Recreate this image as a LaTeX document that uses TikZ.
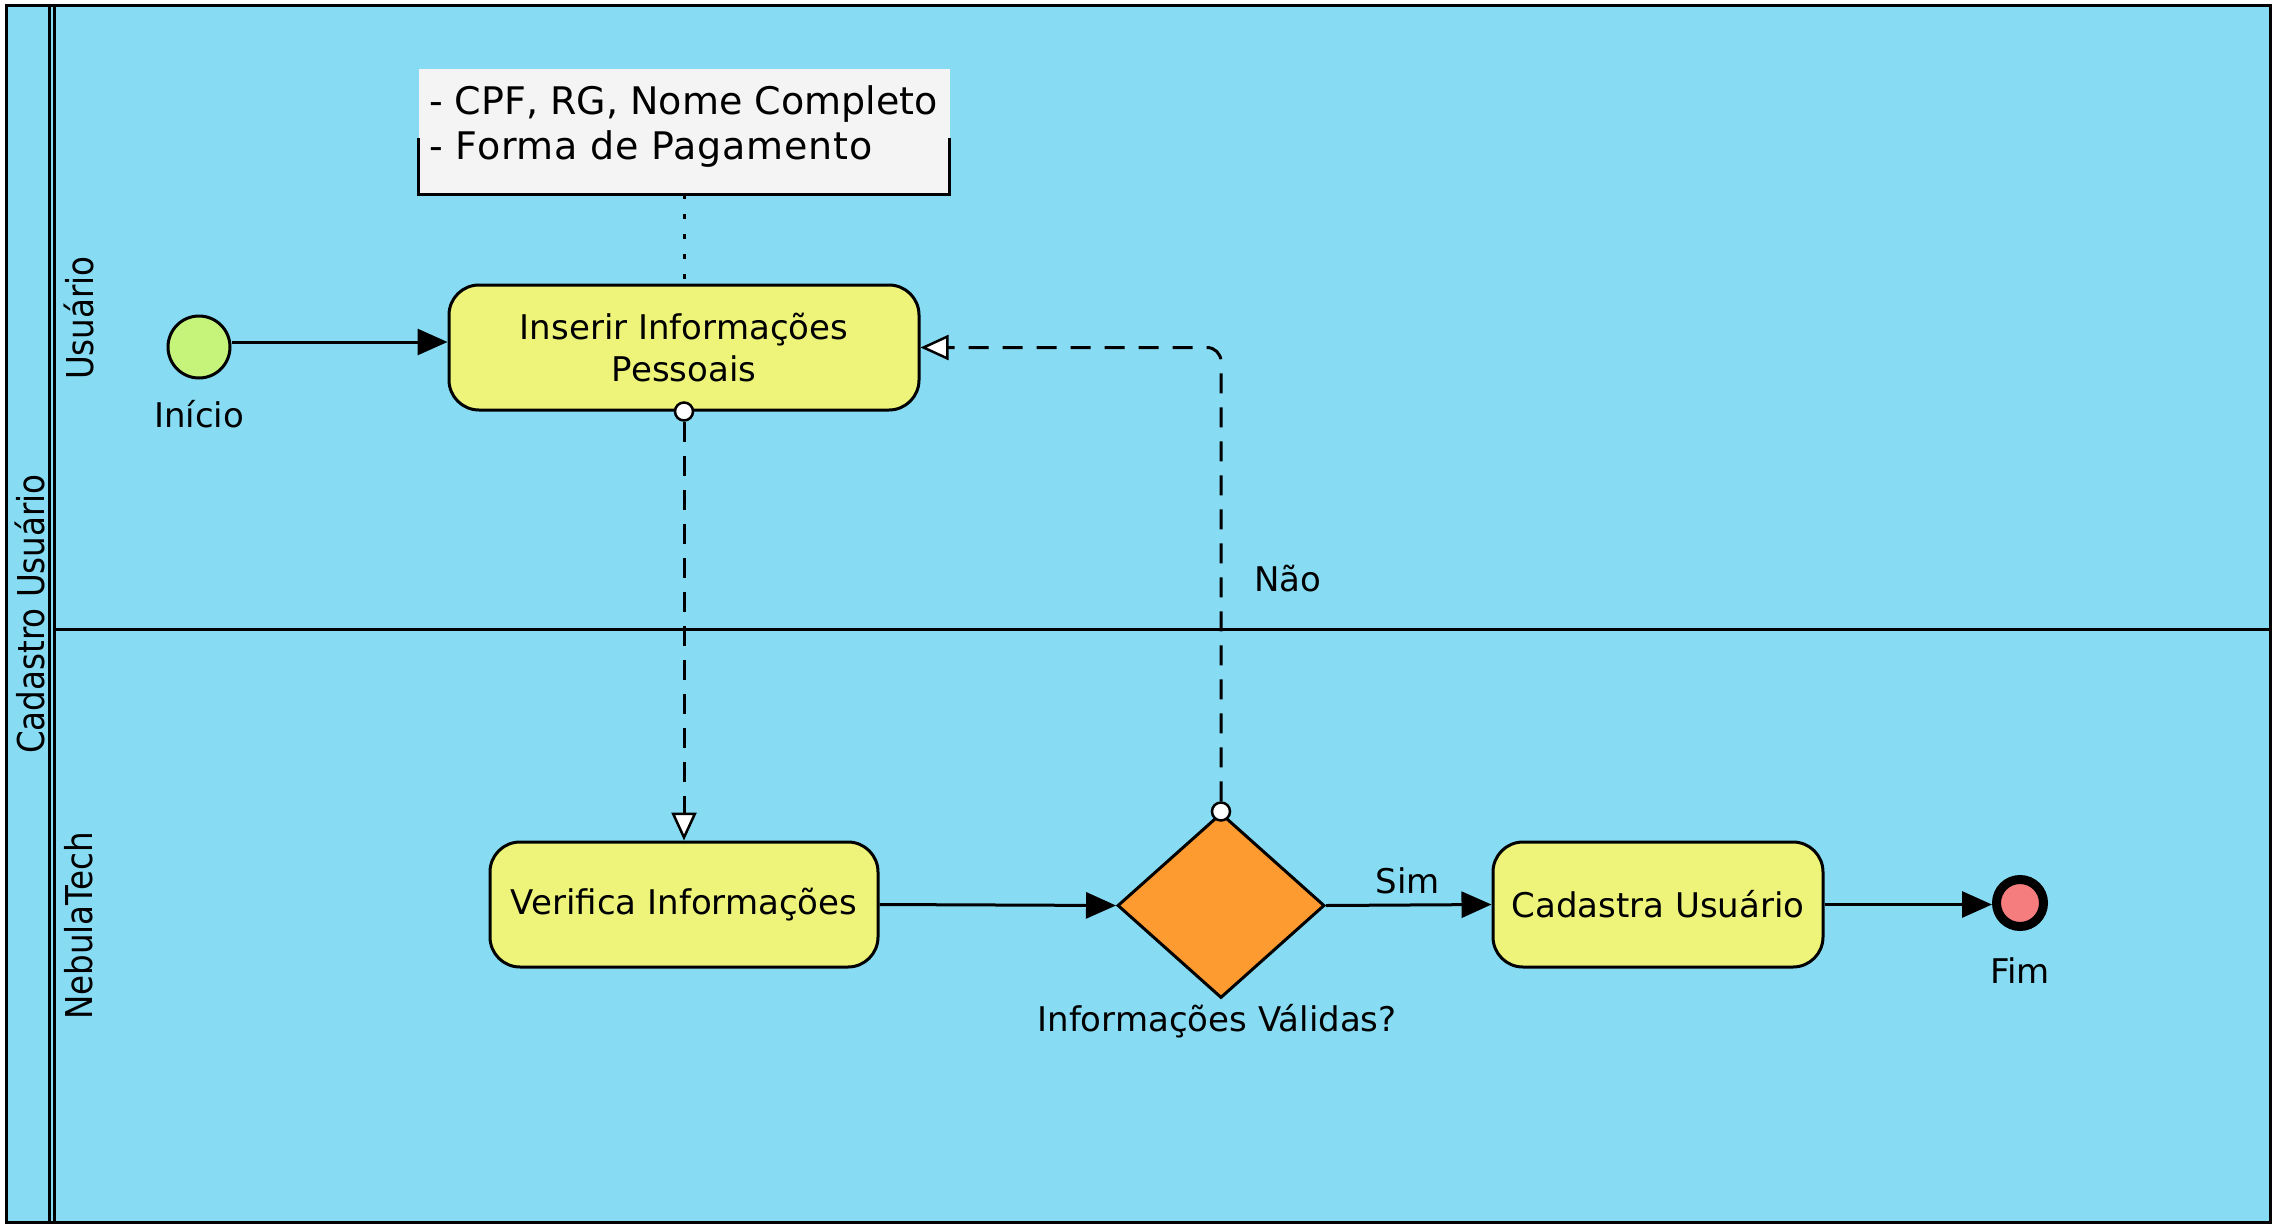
\documentclass[tikz,border=0pt]{standalone}
\usepackage{fontspec}
\setmainfont{DejaVu Sans}
\newfontfamily\condfont[FakeStretch=0.88]{DejaVu Sans}
\usetikzlibrary{shapes.geometric,arrows.meta}
\definecolor{poolbg}{HTML}{87DCF4}
\definecolor{taskfill}{HTML}{EEF47A}
\definecolor{startfill}{HTML}{C6F47A}
\definecolor{gwfill}{HTML}{FD9A30}
\definecolor{endfill}{HTML}{F57D7D}
\definecolor{annotfill}{HTML}{F4F4F4}
\newcommand\mytaskfont{\fontsize{34}{42}\selectfont}
\newcommand\myannotfont{\fontsize{38}{45}\selectfont}
\newcommand\mylanefont{\condfont\fontsize{37}{44}\selectfont}
\begin{document}
\begin{tikzpicture}[x=1pt,y=-1pt,
  task/.style={draw, line width=3pt, fill=taskfill, rounded corners=30pt, align=center, font=\mytaskfont, inner sep=0pt, minimum height=125pt},
  lbl/.style={font=\mytaskfont, inner sep=0pt},
  lane/.style={font=\mylanefont, rotate=90, inner sep=0pt},
  flow/.style={line width=3pt, -{Triangle[length=30pt,width=26pt]}},
  msg/.style={line width=3pt, dash pattern=on 20pt off 14pt, -{Triangle[open,length=28pt,width=25pt,fill=white,line width=2.5pt]}},
  marker/.style={circle, draw, fill=white, line width=2.5pt, minimum size=18pt, inner sep=0pt},
  assoc/.style={line width=3pt, dash pattern=on 5pt off 15pt}
]
\useasboundingbox (0,0) rectangle (2281,1231);
% pool and lanes
\draw[line width=3pt, fill=poolbg] (6,6) rectangle (2270,1222);
\draw[line width=3pt] (49,6) -- (49,1222);
\draw[line width=3pt] (54,6) -- (54,1222);
\draw[line width=3pt] (54,629) -- (2270,629);
\node[lane] (poollbl) at (30,614) {Cadastro Usuário};
\node[lane] (lane1) at (79,318) {Usuário};
\node[lane] (lane2) at (79,926) {NebulaTech};
% annotation
\node[fill=annotfill, minimum width=531pt, minimum height=125pt, inner sep=0pt] (annot) at (684,131.5) {};
\draw[line width=3pt] ([yshift=56pt]annot.south west) -- (annot.south west) -- (annot.south east) -- ([yshift=56pt]annot.south east);
\node[anchor=north west, align=left, font=\myannotfont, inner sep=0pt] (annottxt) at (429,85) {- CPF, RG, Nome Completo\\\addfontfeature{LetterSpace=2}- Forma de Pagamento};
% nodes
\node[circle, draw, line width=3pt, fill=startfill, minimum size=62pt, inner sep=0pt] (start) at (199,347) {};
\node[lbl] (startlbl) at (199,414) {Início};
\node[task, minimum width=470pt] (task1) at (684,347.5) {Inserir Informações\\Pessoais};
\node[task, minimum width=388pt] (task2) at (684,904.5) {Verifica Informações};
\node[diamond, draw, line width=3pt, fill=gwfill, minimum width=207pt, minimum height=185pt, inner sep=0pt] (gw) at (1221,905.5) {};
\node[lbl] (gwlbl) at (1217,1021) {Informações Válidas?};
\node[task, minimum width=330pt] (task3) at (1658,904.5) {Cadastra Usuário};
\node[circle, draw, line width=9pt, fill=endfill, minimum size=47pt, inner sep=0pt] (end) at (2020,903) {};
\node[lbl] (endlbl) at (2020,971) {Fim};
% markers
\node[marker] (m1) at (task1.south) {};
\node[marker] (m2) at (gw.north) {};
% connectors
\draw[assoc] (annot.south) -- (task1.north);
\draw[flow] ([yshift=5pt]start.east) -- ([yshift=5pt]start.east -| task1.west);
\draw[msg] (m1) -- (task2.north);
\draw[flow] (task2.east) -- (gw.west);
\draw[msg, rounded corners=14pt] (m2) |- (task1.east);
\draw[flow] (gw.east) -- (task3.west);
\draw[flow] (task3.east) -- (task3.east -| end.west);
\node[lbl] (nao) at (1288,579) {Não};
\node[lbl] (sim) at (1408,881) {Sim};
\end{tikzpicture}
\end{document}
